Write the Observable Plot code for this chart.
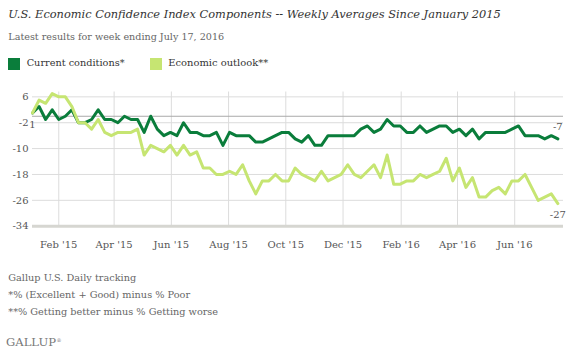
<!DOCTYPE html>
<html><head><meta charset="utf-8">
<script src="https://cdn.jsdelivr.net/npm/d3@7"></script>
<script src="https://cdn.jsdelivr.net/npm/@observablehq/plot@0.6"></script>
<style>
body{margin:0;background:#fff;}
#wrap{position:relative;width:570px;height:354px;overflow:hidden;font-family:"DejaVu Serif",Georgia,serif;}
.t{position:absolute;white-space:nowrap;line-height:1;}
.sw{position:absolute;width:12px;height:12px;top:57.5px;}
#chart{position:absolute;left:0;top:80px;}
</style></head><body>
<div id="wrap">
  <div class="t" style="font-style:italic;color:#333" data-x="8.3" data-w="493" data-b="18.5">U.S. Economic Confidence Index Components -- Weekly Averages Since January 2015</div>
  <div class="t" style="color:#666" data-x="8.3" data-w="216" data-b="40">Latest results for week ending July 17, 2016</div>
  <div class="sw" id="sw0" style="left:8px"></div>
  <div class="t" id="lg0" style="color:#333" data-x="26.7" data-w="98" data-b="66.7"></div>
  <div class="sw" id="sw1" style="left:150px"></div>
  <div class="t" id="lg1" style="color:#333" data-x="168.3" data-w="100" data-b="66.7"></div>
  <div id="chart"></div>
  <div class="t" style="color:#666" data-x="8.3" data-w="128" data-b="281.7">Gallup U.S. Daily tracking</div>
  <div class="t" style="color:#666" data-x="8.3" data-w="182" data-b="298">*% (Excellent + Good) minus % Poor</div>
  <div class="t" style="color:#666" data-x="8.3" data-w="210" data-b="315">**% Getting better minus % Getting worse</div>
  <div class="t" style="color:#777" data-x="6" data-w="50" data-b="346.7">GALLUP</div>
  <div style="position:absolute;left:56.5px;top:337px;font-size:5px;color:#777">®</div>
</div>
<script>
// ---- data ----
const seriesNames = ["Current conditions*", "Economic outlook**"];
const seriesColors = ["#0a7d3b", "#c6e572"];
const firstWeek = "2015-01-04";
const lastWeek = "2016-07-17";
const current = [1,3,-1,2,-1,0,2,-2,-2,-1,
  2,-1,-1,-2,0,-1,-1,-5,0,-4,
  -6,-5,-6,-2,-5,-5,-6,-6,-5,-9,
  -5,-6,-6,-6,-8,-8,-7,-6,-5,-5,
  -7,-8,-6,-9,-9,-6,-6,-6,-6,-6,
  -4,-3,-5,-4,-1,-3,-3,-5,-5,-3,
  -5,-4,-3,-3,-5,-4,-6,-4,-7,-5,
  -5,-5,-5,-4,-3,-6,-6,-6,-7,-6,
  -7];
const outlook = [1,5,4,7,6,6,3,-2,-2,-4,
  -1,-5,-6,-5,-5,-5,-4,-12,-9,-10,
  -11,-9,-12,-9,-12,-11,-16,-16,-18,-18,
  -17,-18,-15,-20,-24,-20,-20,-18,-20,-20,
  -16,-18,-19,-20,-17,-20,-19,-18,-15,-18,
  -19,-17,-15,-19,-12,-21,-21,-20,-20,-18,
  -19,-18,-17,-13,-20,-16,-22,-19,-25,-25,
  -23,-22,-24,-20,-20,-18,-22,-26,-25,-24,
  -27];
const yTicks = [6, -2, -10, -18, -26, -34];
const xTickDates = ["2015-02-01","2015-04-01","2015-06-01","2015-08-01","2015-10-01","2015-12-01","2016-02-01","2016-04-01","2016-06-01"];
const xTickLabels = ["Feb '15","Apr '15","Jun '15","Aug '15","Oct '15","Dec '15","Feb '16","Apr '16","Jun '16"];

// ---- build ----
const start = new Date(firstWeek + "T00:00:00Z");
const end = new Date(lastWeek + "T00:00:00Z");
const weeks = d3.utcSunday.range(start, d3.utcDay.offset(end, 1));
const rows = [];
[current, outlook].forEach((vals, s) => vals.forEach((v, i) => rows.push({series: seriesNames[s], date: weeks[i], value: v})));
const tickDates = xTickDates.map(d => new Date(d + "T00:00:00Z"));
const labelMap = new Map(tickDates.map((d, i) => [+d, xTickLabels[i]]));
const curRows = rows.filter(d => d.series === seriesNames[0]);
const outRows = rows.filter(d => d.series === seriesNames[1]);

document.getElementById("sw0").style.background = seriesColors[0];
document.getElementById("sw1").style.background = seriesColors[1];
document.getElementById("lg0").textContent = seriesNames[0];
document.getElementById("lg1").textContent = seriesNames[1];

const chart = Plot.plot({
  width: 570, height: 180,
  marginLeft: 32, marginRight: 7, marginTop: 11.5, marginBottom: 34.3,
  x: {type: "utc", domain: [start, d3.utcDay.offset(end, 6)], label: null},
  y: {domain: [-34, 7.5], label: null},
  color: {domain: seriesNames, range: seriesColors},
  style: {fontFamily: "'DejaVu Serif', serif", fontSize: "10px", color: "#555", background: "transparent", overflow: "visible"},
  marks: [
    Plot.gridY(yTicks.filter(t => t !== -34), {stroke: "#dcdcdc", strokeOpacity: 1}),
    Plot.gridX(tickDates, {stroke: "#dcdcdc", strokeOpacity: 1}),
    Plot.ruleY([0], {stroke: "#a9a9a9"}),
    Plot.ruleY([-34], {stroke: "#d6d6d1", strokeWidth: 3}),
    Plot.axisY(yTicks, {tickSize: 0, tickPadding: 4, tickFormat: d => String(d)}),
    Plot.axisX(tickDates, {tickSize: 0, tickPadding: 15, tickFormat: d => labelMap.get(+d)}),
    Plot.line(curRows, {x: "date", y: "value", stroke: "series", strokeWidth: 3}),
    Plot.line(outRows, {x: "date", y: "value", stroke: "series", strokeWidth: 3}),
    Plot.text([curRows[0]], {x: "date", y: "value", text: d => String(d.value), dy: 12, fill: "#555"}),
    Plot.text([curRows[curRows.length - 1]], {x: "date", y: "value", text: d => String(d.value), dy: -12, fill: "#555"}),
    Plot.text([outRows[outRows.length - 1]], {x: "date", y: "value", text: d => String(d.value), dy: 11, fill: "#555"})
  ]
});
document.getElementById("chart").appendChild(chart);

// fit header/caption text to the reference widths
const ctx = document.createElement("canvas").getContext("2d");
document.querySelectorAll(".t").forEach(el => {
  const cs = getComputedStyle(el);
  ctx.font = `${cs.fontStyle} ${cs.fontWeight} 20px ${cs.fontFamily}`;
  const m = ctx.measureText(el.textContent).width;
  const fs = 20 * (+el.dataset.w) / m;
  el.style.fontSize = fs + "px";
  el.style.left = el.dataset.x + "px";
  el.style.top = (+el.dataset.b - 0.846 * fs) + "px";
});
</script>
</body></html>
